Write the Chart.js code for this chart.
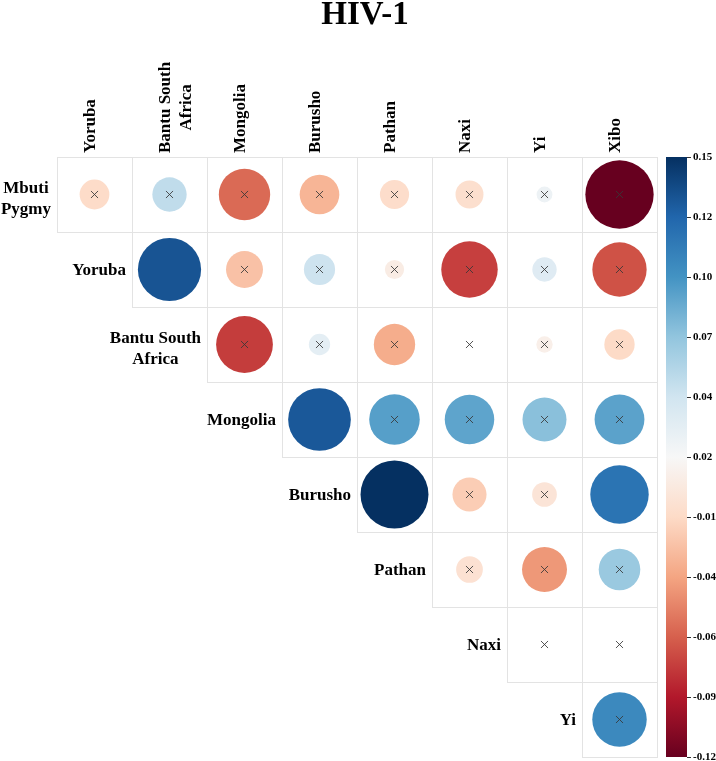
<!DOCTYPE html>
<html><head><meta charset="utf-8">
<script src="https://cdn.jsdelivr.net/npm/chart.js@4.4.1/dist/chart.umd.min.js"></script>
<style>html,body{margin:0;padding:0;background:#fff;}canvas{display:block;}</style>
</head><body>
<canvas id="c" width="716" height="761" style="width:716px;height:761px"></canvas>
<script>
const chartTitle = 'HIV-1';
const colLabels = ['Yoruba', ['Bantu South', 'Africa'], 'Mongolia', 'Burusho', 'Pathan', 'Naxi', 'Yi', 'Xibo'];
const rowLabels = [['Mbuti', 'Pygmy'], 'Yoruba', ['Bantu South', 'Africa'], 'Mongolia', 'Burusho', 'Pathan', 'Naxi', 'Yi'];

// upper-triangle values, each row starts at the column with the same index
const valsMbutiPygmy = [-0.010, 0.050, -0.061, -0.030, -0.009, -0.007, 0.023, -0.120];
const valsYoruba     = [0.132, -0.024, 0.044, 0.005, -0.077, 0.033, -0.070];
const valsBantu      = [-0.078, 0.029, -0.034, 0.016, 0.008, -0.011];
const valsMongolia   = [0.130, 0.090, 0.087, 0.072, 0.088];
const valsBurusho    = [0.150, -0.018, -0.002, 0.115];
const valsPathan     = [-0.005, -0.043, 0.066];
const valsNaxi       = [0.016, 0.016];
const valsYi         = [0.102];

// 1 = cell carries a "×" mark
const markMbutiPygmy = [1, 1, 1, 1, 1, 1, 1, 1];
const markYoruba     = [0, 1, 1, 1, 1, 1, 1];
const markBantu      = [1, 1, 1, 1, 1, 1];
const markMongolia   = [0, 1, 1, 1, 1];
const markBurusho    = [0, 1, 1, 0];
const markPathan     = [1, 1, 1];
const markNaxi       = [1, 1];
const markYi         = [1];

const cbMin = -0.1185, cbMax = 0.15;
const cbTickLabels = ['0.15', '0.12', '0.10', '0.07', '0.04', '0.02', '-0.01', '-0.04', '-0.06', '-0.09', '-0.12'];

const allVals = [valsMbutiPygmy, valsYoruba, valsBantu, valsMongolia, valsBurusho, valsPathan, valsNaxi, valsYi];
const allMarks = [markMbutiPygmy, markYoruba, markBantu, markMongolia, markBurusho, markPathan, markNaxi, markYi];

const rdbu = ['#67001f', '#b2182b', '#d6604d', '#f4a582', '#fddbc7', '#f7f7f7', '#d1e5f0', '#92c5de', '#4393c3', '#2166ac', '#053061'];
function hex2rgb(h) { return [parseInt(h.slice(1, 3), 16), parseInt(h.slice(3, 5), 16), parseInt(h.slice(5, 7), 16)]; }
const rdbuRGB = rdbu.map(hex2rgb);
function colorFor(v) {
  let t = (v - cbMin) / (cbMax - cbMin);
  t = Math.max(0, Math.min(1, t));
  const p = t * (rdbuRGB.length - 1);
  const i = Math.min(rdbuRGB.length - 2, Math.floor(p));
  const f = p - i;
  const a = rdbuRGB[i], b = rdbuRGB[i + 1];
  return 'rgb(' + a.map((c, k) => Math.round(c + (b[k] - c) * f)).join(',') + ')';
}
const cbMid = (cbMin + cbMax) / 2;

const circlePts = [], crossPts = [];
allVals.forEach((row, i) => {
  row.forEach((v, k) => {
    circlePts.push({ x: i + k, y: i, v: v });
    if (allMarks[i][k]) crossPts.push({ x: i + k, y: i });
  });
});

const FONT = '"Liberation Serif", "Times New Roman", serif';

function radiusFor(ctx) {
  const xs = ctx.chart.scales.x;
  const cell = Math.abs(xs.getPixelForValue(1) - xs.getPixelForValue(0));
  const rMax = cell * 0.453;
  const v = ctx.raw ? ctx.raw.v : 0;
  const d = Math.abs(v - cbMid) / (cbMax - cbMid);
  return rMax * Math.sqrt(Math.min(1.03, d));
}

const deco = {
  id: 'deco',
  beforeDatasetsDraw(chart) {
    const ctx = chart.ctx, xs = chart.scales.x, ys = chart.scales.y;
    ctx.save();
    ctx.strokeStyle = '#e3e3e3';
    ctx.lineWidth = 1;
    allVals.forEach((row, i) => {
      row.forEach((v, k) => {
        const j = i + k;
        const x0 = Math.round(xs.getPixelForValue(j - 0.5)) + 0.5;
        const x1 = Math.round(xs.getPixelForValue(j + 0.5)) + 0.5;
        const y0 = Math.round(ys.getPixelForValue(i - 0.5)) + 0.5;
        const y1 = Math.round(ys.getPixelForValue(i + 0.5)) + 0.5;
        ctx.strokeRect(x0, y0, x1 - x0, y1 - y0);
      });
    });
    ctx.restore();
  },
  afterDraw(chart) {
    const ctx = chart.ctx, xs = chart.scales.x, ys = chart.scales.y, cb = chart.scales.cb;
    const area = chart.chartArea;
    ctx.save();
    // title
    ctx.fillStyle = '#000';
    ctx.font = 'bold 33px ' + FONT;
    ctx.textAlign = 'center';
    ctx.textBaseline = 'alphabetic';
    ctx.fillText(chartTitle, 365, 24);

    const lh = 21;
    ctx.font = 'bold 17px ' + FONT;
    // row labels
    rowLabels.forEach((lab, i) => {
      const lines = Array.isArray(lab) ? lab : [lab];
      const cellLeft = xs.getPixelForValue(i - 0.5);
      const cy = ys.getPixelForValue(i);
      const maxW = Math.max(...lines.map(l => ctx.measureText(l).width));
      const cx = cellLeft - 6 - maxW / 2;
      const n = lines.length;
      ctx.textAlign = 'center';
      ctx.textBaseline = 'alphabetic';
      lines.forEach((l, k) => {
        const lc = cy + (k - (n - 1) / 2) * lh + (n > 1 ? 3 : 0);
        ctx.fillText(l, cx, lc + 5.5);
      });
    });
    // column labels
    colLabels.forEach((lab, j) => {
      const lines = Array.isArray(lab) ? lab : [lab];
      const cx = xs.getPixelForValue(j);
      const bottom = area.top - 4;
      const maxW = Math.max(...lines.map(l => ctx.measureText(l).width));
      ctx.save();
      ctx.translate(cx, bottom - maxW / 2);
      ctx.rotate(-Math.PI / 2);
      ctx.textAlign = 'center';
      ctx.textBaseline = 'alphabetic';
      lines.forEach((l, k) => ctx.fillText(l, 0, k * lh));
      ctx.restore();
    });

    // colorbar
    const bx = cb.left + 9, bw = 21;
    const top = cb.getPixelForValue(cbMax), bot = cb.getPixelForValue(cbMin);
    const g = ctx.createLinearGradient(0, bot, 0, top);
    rdbu.forEach((c, k) => g.addColorStop(k / (rdbu.length - 1), c));
    ctx.fillStyle = g;
    ctx.fillRect(bx, top, bw, bot - top);
    ctx.strokeStyle = '#333';
    ctx.lineWidth = 1;
    cb.ticks.forEach(t => {
      const yy = Math.round(cb.getPixelForValue(t.value)) + 0.5;
      ctx.beginPath();
      ctx.moveTo(bx + bw, yy);
      ctx.lineTo(bx + bw + 4, yy);
      ctx.stroke();
    });
    ctx.restore();
  }
};

new Chart(document.getElementById('c'), {
  type: 'scatter',
  data: {
    datasets: [
      {
        label: 'marks',
        data: crossPts,
        order: 0,
        pointStyle: 'crossRot',
        pointRadius: 5,
        pointBorderColor: 'rgba(55,55,55,0.85)',
        pointBorderWidth: 1,
        pointBackgroundColor: 'rgba(0,0,0,0)'
      },
      {
        label: 'values',
        data: circlePts,
        order: 1,
        pointStyle: 'circle',
        pointRadius: radiusFor,
        pointBorderWidth: 0,
        pointBorderColor: 'rgba(0,0,0,0)',
        pointBackgroundColor: ctx => colorFor(ctx.raw ? ctx.raw.v : 0)
      }
    ]
  },
  options: {
    responsive: false,
    animation: false,
    devicePixelRatio: 1,
    events: [],
    layout: { autoPadding: false, padding: { left: 57, top: 157, right: 0, bottom: 4 } },
    plugins: { legend: { display: false }, tooltip: { enabled: false }, title: { display: false } },
    scales: {
      x: { type: 'linear', min: -0.5, max: 7.5, display: false },
      y: { type: 'linear', min: -0.5, max: 7.5, reverse: true, display: false },
      cb: {
        type: 'linear',
        position: 'right',
        min: cbMin,
        max: cbMax,
        afterFit(s) { s.width = 59; s.paddingTop = 0; s.paddingBottom = 0; },
        afterBuildTicks(s) {
          const n = cbTickLabels.length;
          s.ticks = cbTickLabels.map((l, i) => ({ value: cbMax - i * (cbMax - cbMin) / (n - 1) }));
        },
        grid: { display: false, drawTicks: true, tickLength: 36 },
        border: { display: false },
        ticks: {
          autoSkip: false,
          padding: 0,
          color: '#000',
          font: { family: FONT, size: 11, weight: 'bold' },
          callback: (v, i) => cbTickLabels[i]
        }
      }
    }
  },
  plugins: [deco]
});
</script>
</body></html>
